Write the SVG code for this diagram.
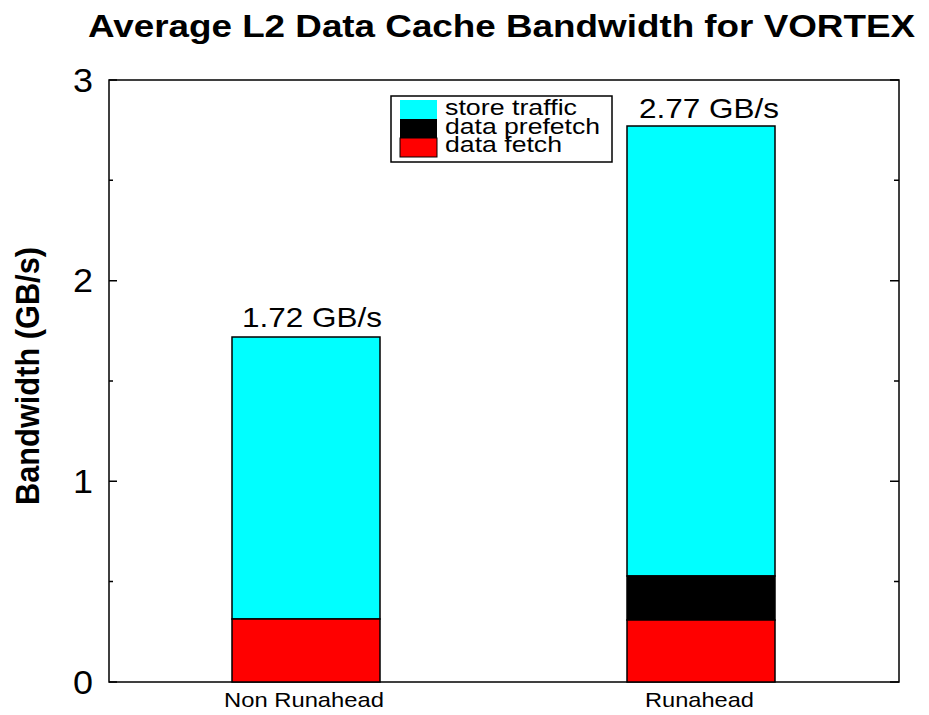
<svg xmlns="http://www.w3.org/2000/svg" width="929" height="715" viewBox="0 0 929 715">
<style>
text{font-family:"Liberation Sans",Arial,sans-serif;fill:#000}
.ax{stroke:#000;stroke-width:1.5;fill:none}
.bar{stroke:#000;stroke-width:1.5}
.tick{font-size:33px;text-anchor:end}
.val{font-size:28px;text-anchor:middle}
.xl{font-size:21px;text-anchor:middle}
.lg{font-size:22px}
</style>
<rect width="929" height="715" fill="#fff"/>
<text x="501.5" y="37" font-size="31" font-weight="bold" text-anchor="middle" textLength="827" lengthAdjust="spacingAndGlyphs">Average L2 Data Cache Bandwidth for VORTEX</text>
<text transform="translate(39,376) scale(1.12,1) rotate(-90)" font-size="30" font-weight="bold" text-anchor="middle" textLength="258" lengthAdjust="spacingAndGlyphs">Bandwidth (GB/s)</text>
<g id="axes">
<rect class="ax" x="109" y="80" width="790" height="602"/>
<path class="ax" d="M109 682h8M109 581.5h4M109 481.3h8M109 381h4M109 280.7h8M109 180.3h4M109 80h8M899 682h-9M899 581.5h-5M899 481.3h-9M899 381h-5M899 280.7h-9M899 180.3h-5M899 80h-9"/>
<text class="tick" x="93" y="694" textLength="20" lengthAdjust="spacingAndGlyphs">0</text>
<text class="tick" x="93" y="493" textLength="20" lengthAdjust="spacingAndGlyphs">1</text>
<text class="tick" x="93" y="292" textLength="20" lengthAdjust="spacingAndGlyphs">2</text>
<text class="tick" x="93" y="92" textLength="20" lengthAdjust="spacingAndGlyphs">3</text>
<text class="xl" x="304" y="707" textLength="160" lengthAdjust="spacingAndGlyphs">Non Runahead</text>
<text class="xl" x="699.5" y="707" textLength="109" lengthAdjust="spacingAndGlyphs">Runahead</text>
</g>
<g id="bar-nonrunahead">
<rect class="bar" x="232" y="337" width="148" height="282" fill="#00ffff"/>
<rect class="bar" x="232" y="619" width="148" height="63" fill="#ff0000"/>
<text class="val" x="312" y="327" textLength="140" lengthAdjust="spacingAndGlyphs">1.72 GB/s</text>
</g>
<g id="bar-runahead">
<rect class="bar" x="627" y="126" width="148" height="450" fill="#00ffff"/>
<rect class="bar" x="627" y="576" width="148" height="44" fill="#000000"/>
<rect class="bar" x="627" y="620" width="148" height="62" fill="#ff0000"/>
<text class="val" x="709" y="118" textLength="140" lengthAdjust="spacingAndGlyphs">2.77 GB/s</text>
</g>
<g id="legend">
<rect class="ax" x="391" y="96" width="221" height="66" fill="#fff"/>
<rect x="400" y="100" width="37" height="19" fill="#00ffff"/>
<rect x="400" y="119" width="37" height="19" fill="#000000"/>
<rect x="400" y="138" width="37" height="19" fill="#ff0000" stroke="#000" stroke-width="1"/>
<text class="lg" x="445" y="115" textLength="132" lengthAdjust="spacingAndGlyphs">store traffic</text>
<text class="lg" x="445" y="133.5" textLength="155" lengthAdjust="spacingAndGlyphs">data prefetch</text>
<text class="lg" x="445" y="152" textLength="117" lengthAdjust="spacingAndGlyphs">data fetch</text>
</g>
</svg>
